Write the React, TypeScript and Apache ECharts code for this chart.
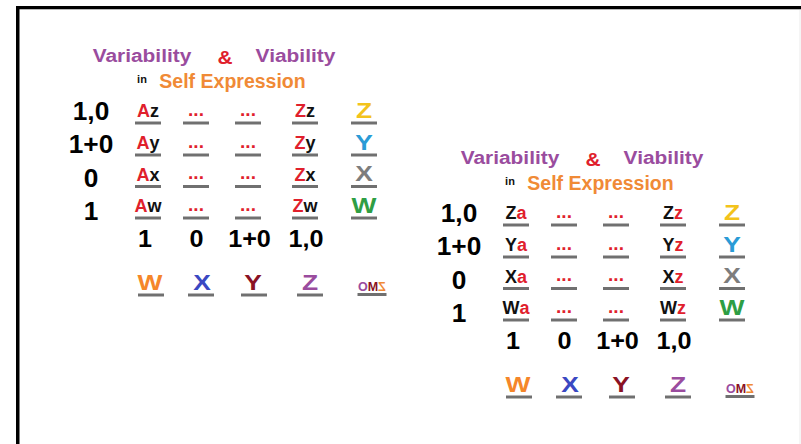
import React, { useEffect, useRef } from "react";
import * as echarts from "echarts";

// ---- content ----
const titleWords = ["Variability", "&", "Viability"];
const subtitle = ["in", "Self Expression"];
const rowLabels = ["1,0", "1+0", "0", "1"];
const colLabels = ["1", "0", "1+0", "1,0"];
const leftRowLetters = ["z", "y", "x", "w"];
const rightRowLetters = ["Z", "Y", "X", "W"];
const bigLetters = ["Z", "Y", "X", "W"];
const legendLetters = ["W", "X", "Y", "Z"];
const logoLetters = ["O", "M", "Z"];

// ---- styles ----
const FONT = "'Liberation Sans', Arial, Helvetica, sans-serif";
const PURPLE = "#9a4c9e";
const RED = "#e0202c";
const ORANGE = "#f08a36";
const GRAY_LINE = "#707070";
const bigColors = ["#f3c31c", "#2a9bd6", "#7d7d7d", "#2e9e44"];
const legendColors = ["#f5862a", "#3a48c2", "#8a1224", "#9a4c9e"];
const logoColors = ["#9a4c9e", "#8a1224", "#f08a36"];

// layout of the left block (right block is offset)
const colX = [148, 196, 248, 305, 364];
const underlineY = [123, 155, 186.5, 218];
const rowLabelY = [111, 144, 178, 211];
const rowLabelX = 91;
const bottomLabelX = [145, 196.5, 249.5, 306];
const bottomLabelY = 239;
const legendX = [150, 202, 253, 310];
const legendUnderX = [151, 201, 254, 310];
const legendY = 282;
const legendUnderY = 295;
const logoX = 372;
const logoY = 287;

function txt(x: number, y: number, text: string, color: string, size: number, extra: any = {}) {
  return {
    type: "text",
    x,
    y,
    ...extra,
    style: {
      text,
      fill: color,
      fontSize: size,
      fontWeight: "bold",
      fontFamily: FONT,
      align: "center",
      verticalAlign: "middle",
    },
  };
}

function rich(x: number, y: number, parts: [string, string][], size: number) {
  const richDef: any = {};
  let text = "";
  parts.forEach((p, i) => {
    const key = "p" + i;
    richDef[key] = { fill: p[1], fontSize: size, fontWeight: "bold", fontFamily: FONT };
    text += "{" + key + "|" + p[0] + "}";
  });
  return {
    type: "text",
    x,
    y,
    style: {
      text,
      rich: richDef,
      fontSize: size,
      fontWeight: "bold",
      fontFamily: FONT,
      align: "center",
      verticalAlign: "middle",
    },
  };
}

function underline(cx: number, y: number, w = 26) {
  return {
    type: "rect",
    shape: { x: cx - w / 2, y: y - 1.5, width: w, height: 3 },
    style: { fill: GRAY_LINE },
  };
}

function block(ox: number, oy: number, right: boolean) {
  const els: any[] = [];
  // title
  els.push(txt(142 + ox, 55 + oy, titleWords[0], PURPLE, 19, { scaleX: 1.1 }));
  els.push(txt(225 + ox, 57 + oy, titleWords[1], RED, 19, { scaleX: 1.1 }));
  els.push(txt(295.5 + ox, 55 + oy, titleWords[2], PURPLE, 19, { scaleX: 1.1 }));
  els.push(txt(142 + ox, 79 + oy, subtitle[0], "#111", 11));
  els.push(txt(232.5 + ox, 81 + oy, subtitle[1], ORANGE, 19.5));

  rowLabels.forEach((lab, r) => {
    els.push(txt(rowLabelX + ox, rowLabelY[r] + oy, lab, "#000", 25, { scaleX: 1.05 }));
    const uy = underlineY[r] + oy;
    const ty = uy - 12;
    const lower = leftRowLetters[r];
    const upper = rightRowLetters[r];
    if (!right) {
      els.push(rich(colX[0] + ox, ty, [["A", RED], [lower, "#111"]], 18));
      els.push(rich(colX[3] + ox, ty, [["Z", RED], [lower, "#111"]], 18));
    } else {
      els.push(rich(colX[0] + ox, ty, [[upper, "#111"], ["a", RED]], 18));
      els.push(rich(colX[3] + ox, ty, [[upper, "#111"], ["z", RED]], 18));
    }
    els.push(txt(colX[1] + ox, uy - 14, "...", RED, 19));
    els.push(txt(colX[2] + ox, uy - 14, "...", RED, 19));
    els.push(txt(colX[4] + ox, uy - 13, bigLetters[r], bigColors[r], 22, { scaleX: 1.2 }));
    colX.forEach((cx) => els.push(underline(cx + ox, uy)));
  });

  colLabels.forEach((lab, c) => {
    els.push(txt(bottomLabelX[c] + ox, bottomLabelY + oy, lab, "#000", 24, { scaleX: 1.05 }));
  });

  legendLetters.forEach((l, i) => {
    els.push(txt(legendX[i] + ox, legendY + oy, l, legendColors[i], 22, { scaleX: 1.2 }));
    els.push(underline(legendUnderX[i] + ox, legendUnderY + oy));
  });

  // logo: "OM" plus a mirrored "Z"
  els.push(
    rich(
      logoX - 4 + ox,
      logoY + oy,
      logoLetters.slice(0, 2).map((l, i) => [l, logoColors[i]] as [string, string]),
      12.5
    )
  );
  els.push(txt(logoX + 10 + ox, logoY + oy, logoLetters[2], logoColors[2], 12.5, { scaleX: -1 }));
  els.push(underline(logoX + ox, 294.5 + oy, 29));
  return els;
}

export default function App() {
  const ref = useRef<HTMLDivElement>(null);
  useEffect(() => {
    if (!ref.current) return;
    const chart = echarts.init(ref.current, null, { renderer: "svg" });
    const elements: any[] = [
      // frame
      { type: "rect", shape: { x: 16, y: 6, width: 785, height: 3 }, style: { fill: "#000" } },
      { type: "rect", shape: { x: 19, y: 9, width: 782, height: 1 }, style: { fill: "#b8b8b8" } },
      { type: "rect", shape: { x: 16, y: 6, width: 3.5, height: 438 }, style: { fill: "#000" } },
      { type: "rect", shape: { x: 799.5, y: 10, width: 1, height: 434 }, style: { fill: "#ececec" } },
      ...block(0, 0, false),
      ...block(368, 102, true),
    ];
    chart.setOption({
      animation: false,
      backgroundColor: "#ffffff",
      graphic: { elements },
    });
    return () => chart.dispose();
  }, []);
  return (
    <div
      ref={ref}
      style={{ position: "absolute", left: 0, top: 0, width: 801, height: 444 }}
    />
  );
}
